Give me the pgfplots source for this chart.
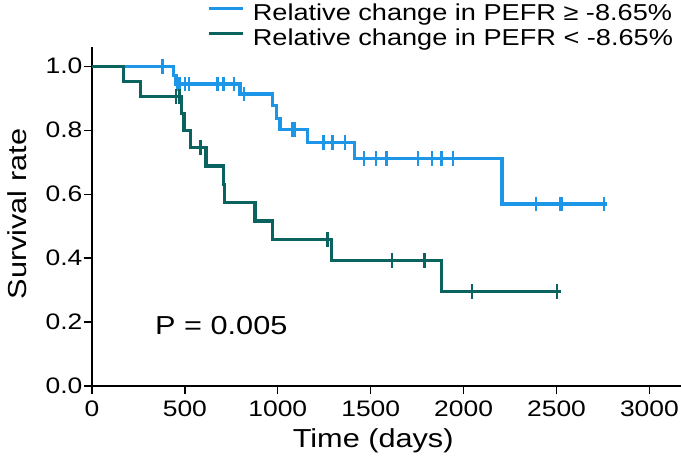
\documentclass[border=0pt]{standalone}
\usepackage{fontspec}
\setmainfont{Liberation Sans}[FakeStretch=1.18]
\usepackage{pgfplots}
\pgfplotsset{compat=1.18}
\definecolor{kmblue}{RGB}{30,150,232}
\definecolor{kmteal}{RGB}{11,99,96}
\begin{document}
\begin{tikzpicture}
\useasboundingbox (-69pt,-58.5pt) rectangle (441.75pt,289.5pt);
\begin{axis}[
  at={(0,0)}, anchor=south west,
  scale only axis, width=441.75pt, height=254.25pt,
  xmin=0, xmax=3170, ymin=0, ymax=1.06,
  axis x line*=bottom, axis y line*=left,
  axis line style={line width=0.9pt, black},
  xtick={0,500,1000,1500,2000,2500,3000},
  ytick={0,0.2,0.4,0.6,0.8,1},
  tick align=outside, major tick length=6pt,
  tick style={line width=0.9pt, black},
  /pgf/number format/assume math mode=true,
  ticklabel style={font=\fontsize{16.8pt}{19pt}\selectfont},
  yticklabel style={inner sep=1pt, /pgf/number format/fixed, /pgf/number format/fixed zerofill, /pgf/number format/precision=1},
  xticklabel style={inner sep=5pt, /pgf/number format/set thousands separator={}},
  xlabel={Time (days)},
  xlabel style={at={(axis description cs:0.4774,0)}, anchor=base, yshift=-46pt, font=\fontsize{19.5pt}{21pt}\selectfont},
  ylabel={Survival rate},
  ylabel style={at={(axis description cs:-0.1104,0.507)}, anchor=base, font=\fontsize{19.5pt}{21pt}\selectfont},
  legend image code/.code={\draw[#1, line width=2.4pt] (0pt,6pt) -- (26pt,6pt);},
  legend style={at={(rel axis cs:0.9864,1.128)}, anchor=north east, draw=none, fill=none,
    inner sep=0pt, outer sep=0pt, row sep=0pt, column sep=6pt,
    font=\fontsize{17.25pt}{18.75pt}\selectfont,
    nodes={inner sep=0pt, text height=13pt, text depth=5.75pt}},
  legend cell align=left,
  clip=false,
]
% Group: relative change >= -8.65%
\addplot[kmblue, line width=2.4pt, const plot, mark=none] coordinates {
  (0,1) (437,0.970) (452,0.944) (796,0.913) (973,0.876) (991,0.837) (1012,0.801)
  (1160,0.762) (1411,0.712) (2207,0.569) (2770,0.569)};
\addlegendentry{Relative change in PEFR ≥ -8.65\%}
\addplot[kmblue, only marks, mark=|, mark size=5.5pt, mark options={line width=1.8pt}, forget plot] coordinates {
  (380,1.0) (459,0.944) (470,0.944) (500,0.944) (522,0.944) (676,0.944) (707,0.944) (764,0.944)
  (818,0.913) (1080,0.801) (1090,0.801) (1245,0.762) (1295,0.762) (1361,0.762)
  (1465,0.712) (1527,0.712) (1584,0.712) (1756,0.712) (1831,0.712) (1881,0.712) (1942,0.712)
  (2391,0.569) (2520,0.569) (2530,0.569) (2756,0.569)};
% Group: relative change < -8.65%
\addplot[kmteal, line width=2.4pt, const plot, mark=none] coordinates {
  (0,1) (168,0.952) (261,0.905) (483,0.852) (495,0.799) (531,0.745) (613,0.688)
  (706,0.631) (714,0.573) (877,0.516) (972,0.459) (1291,0.393) (1879,0.295) (2525,0.295)};
\addlegendentry{Relative change in PEFR < -8.65\%}
\addplot[kmteal, only marks, mark=|, mark size=5.5pt, mark options={line width=1.8pt}, forget plot] coordinates {
  (451,0.905) (470,0.905) (583,0.745) (1268,0.459) (1616,0.393) (1790,0.393) (2046,0.295) (2502,0.295)};
\node[anchor=west, font=\fontsize{19.5pt}{21pt}\selectfont] at (axis cs:315,0.19) {P = 0.005};
\end{axis}
\end{tikzpicture}
\end{document}
